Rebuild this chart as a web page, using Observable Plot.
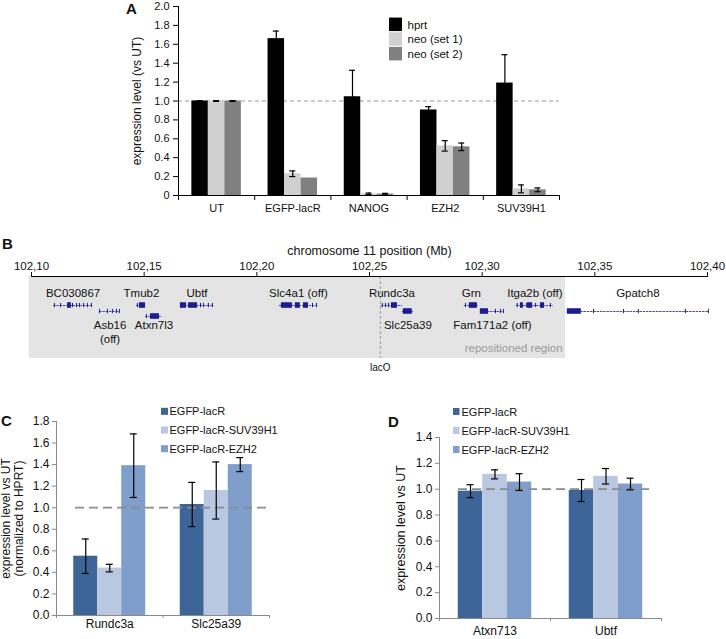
<!DOCTYPE html>
<html><head><meta charset="utf-8">
<script src="https://cdn.jsdelivr.net/npm/d3@7"></script>
<script src="https://cdn.jsdelivr.net/npm/@observablehq/plot@0.6"></script>
<style>
body{margin:0;background:#fff;}
#root{position:relative;width:726px;height:639px;overflow:hidden;background:#fff;font-family:"Liberation Sans",Arial,sans-serif;color:#111;}
.letter{position:absolute;font-weight:bold;font-size:15px;line-height:15px;}
</style></head><body><div id="root"></div>
<script>
// ---------- Panel A data ----------
const catsA = ["UT", "EGFP-lacR", "NANOG", "EZH2", "SUV39H1"];
const seriesA = ["hprt", "neo (set 1)", "neo (set 2)"];
const hprtA = [1.00, 1.66, 1.045, 0.905, 1.19];
const hprtErrA = [0.004, 0.08, 0.28, 0.035, 0.30];
const neo1A = [1.00, 0.23, 0.018, 0.525, 0.07];
const neo1ErrA = [0.004, 0.03, 0.008, 0.055, 0.042];
const neo2A = [1.00, 0.185, 0.015, 0.515, 0.06];
const neo2ErrA = [0.004, 0, 0.008, 0.04, 0.02];
const yTicksA = [0, 0.2, 0.4, 0.6, 0.8, 1.0, 1.2, 1.4, 1.6, 1.8, 2.0];
const colorsA = ["#000000", "#d0d0d0", "#808080"];

// ---------- Panel B data (chromosome 11, Mb) ----------
const chrTicks = [102.10, 102.15, 102.20, 102.25, 102.30, 102.35, 102.40];
const repositioned = {start: 102.099, end: 102.337};
const lacO = 102.2548;
const geneNames = ["BC030867", "Asb16", "Tmub2", "Atxn7l3", "Ubtf", "Slc4a1", "Rundc3a", "Slc25a39", "Grn", "Fam171a2", "Itga2b", "Gpatch8"];
const geneLabels = ["BC030867", "Asb16\n(off)", "Tmub2", "Atxn7l3", "Ubtf", "Slc4a1 (off)", "Rundc3a", "Slc25a39", "Grn", "Fam171a2 (off)", "Itga2b (off)", "Gpatch8"];
const geneStart = [102.1098, 102.1302, 102.1466, 102.1506, 102.1661, 102.2100, 102.2553, 102.2646, 102.2921, 102.2992, 102.3152, 102.3378];
const geneEnd = [102.1271, 102.1395, 102.1510, 102.1581, 102.1808, 102.2269, 102.2646, 102.2695, 102.2983, 102.3099, 102.3316, 102.4004];
const geneRow = [0, 1, 0, 2, 0, 0, 0, 1, 0, 1, 0, 1];
const labelSide = ["above", "below", "above", "below", "above", "above", "above", "below", "above", "below", "above", "above"];
const cdsBlocks = [
  ["BC030867", 102.1160, 102.1177],
  ["Tmub2", 102.1479, 102.1506],
  ["Atxn7l3", 102.1528, 102.1568],
  ["Ubtf", 102.1661, 102.1688], ["Ubtf", 102.1697, 102.1737],
  ["Slc4a1", 102.2109, 102.2158], ["Slc4a1", 102.2171, 102.2193], ["Slc4a1", 102.2207, 102.2229],
  ["Rundc3a", 102.2597, 102.2624],
  ["Slc25a39", 102.2650, 102.2690],
  ["Grn", 102.2943, 102.2979],
  ["Fam171a2", 102.2992, 102.3028],
  ["Itga2b", 102.3170, 102.3183], ["Itga2b", 102.3201, 102.3224], ["Itga2b", 102.3259, 102.3277],
  ["Gpatch8", 102.3378, 102.3440]
];
const exonTicks = [
  ["BC030867", [102.1102, 102.1129, 102.1182, 102.1200, 102.1213, 102.1231, 102.1248, 102.1266]],
  ["Asb16", [102.1302, 102.1337, 102.1359, 102.1377, 102.1390]],
  ["Tmub2", [102.1470]],
  ["Atxn7l3", [102.1510]],
  ["Ubtf", [102.1750, 102.1763, 102.1785, 102.1803]],
  ["Slc4a1", [102.2247, 102.2265]],
  ["Rundc3a", [102.2557, 102.2571, 102.2584]],
  ["Grn", [102.2926]],
  ["Fam171a2", [102.3059, 102.3081, 102.3094]],
  ["Itga2b", [102.3156, 102.3196, 102.3237, 102.3303]],
  ["Gpatch8", [102.3494, 102.3627, 102.3693, 102.3902, 102.4004]]
];

// ---------- Panels C & D data ----------
const seriesCD = ["EGFP-lacR", "EGFP-lacR-SUV39H1", "EGFP-lacR-EZH2"];
const colorsCD = ["#3d6597", "#b9c7e1", "#7f9ecb"];
const catsC = ["Rundc3a", "Slc25a39"];
const lacRC = [0.55, 1.03];
const lacRErrC = [0.16, 0.205];
const suvC = [0.44, 1.16];
const suvErrC = [0.035, 0.265];
const ezhC = [1.39, 1.40];
const ezhErrC = [0.295, 0.065];
const yTicksC = [0, 0.2, 0.4, 0.6, 0.8, 1.0, 1.2, 1.4, 1.6, 1.8];

const catsD = ["Atxn713", "Ubtf"];
const lacRD = [0.985, 0.99];
const lacRErrD = [0.05, 0.085];
const suvD = [1.115, 1.10];
const suvErrD = [0.035, 0.06];
const ezhD = [1.055, 1.04];
const ezhErrD = [0.065, 0.045];
const yTicksD = [0, 0.2, 0.4, 0.6, 0.8, 1.0, 1.2, 1.4];

// ---------- helpers ----------
const FONT = '"Liberation Sans", Arial, sans-serif';
const root = document.getElementById("root");
function place(node, left, top) {
  node.style.position = "absolute";
  node.style.left = left + "px";
  node.style.top = top + "px";
  root.appendChild(node);
}
function letter(t, left, top) {
  const d = document.createElement("div");
  d.className = "letter"; d.textContent = t;
  d.style.left = left + "px"; d.style.top = top + "px";
  root.appendChild(d);
}

// axis lines + category boundary ticks drawn from the band scale
function bandAxisLines(cats, color, tickLen) {
  return (index, scales, values, dims) => {
    const {width, height, marginLeft, marginRight, marginTop, marginBottom} = dims;
    const x0 = marginLeft, x1 = width - marginRight, yb = height - marginBottom;
    let bounds;
    try {
      const xs = scales.x;
      const bw = typeof xs.bandwidth === "function" ? xs.bandwidth() : xs.bandwidth;
      bounds = cats.map(c => xs(c));
      bounds.push(bounds[bounds.length - 1] + bw);
      if (bounds.some(v => !isFinite(v))) throw 0;
    } catch (e) {
      bounds = d3.range(cats.length + 1).map(i => x0 + i * (x1 - x0) / cats.length);
    }
    const g = d3.create("svg:g").attr("stroke", color).attr("fill", "none").attr("stroke-width", 1);
    g.append("line").attr("x1", x0 + 0.5).attr("x2", x0 + 0.5).attr("y1", marginTop).attr("y2", yb);
    g.append("line").attr("x1", x0).attr("x2", x1).attr("y1", yb + 0.5).attr("y2", yb + 0.5);
    for (const b of bounds) {
      g.append("line").attr("x1", b + 0.5).attr("x2", b + 0.5).attr("y1", yb).attr("y2", yb + tickLen);
    }
    return g.node();
  };
}

function groupedBarPlot(cfg) {
  const {cats, series, vals, errs, colors, yDomain, yTicks, tickFmt, width, height, margin,
    barW, capW, dash, axisColor, fontSize, xLabelPad, xTickLen, yTickSize, yTickPad,
    yTitle, yTitleDx, yTitleSize, dashAbove} = cfg;
  const rows = series.flatMap((s, k) => cats.map((c, i) => ({cat: c, series: s, k, value: vals[k][i], err: errs[k][i]})));
  const step = (width - margin.left - margin.right) / cats.length;
  const inset = (step - barW) / 2;
  const capInset = (step - capW) / 2;
  const off = k => (k - (series.length - 1) / 2) * barW;
  const bars = series.map((s, k) => Plot.barY(rows.filter(d => d.k === k), {
    x: "cat", y: "value", fill: "series", dx: off(k), insetLeft: inset, insetRight: inset
  }));
  const errMarks = series.flatMap((s, k) => {
    const r = rows.filter(d => d.k === k && d.err > 0);
    return [
      Plot.ruleX(r, {x: "cat", y1: d => d.value - d.err, y2: d => d.value + d.err, dx: off(k), stroke: "#000", strokeWidth: 1.2}),
      Plot.tickY(r, {x: "cat", y: d => d.value + d.err, dx: off(k), insetLeft: capInset, insetRight: capInset, stroke: "#000", strokeWidth: 1.2}),
      Plot.tickY(r, {x: "cat", y: d => d.value - d.err, dx: off(k), insetLeft: capInset, insetRight: capInset, stroke: "#000", strokeWidth: 1.2})
    ];
  });
  const dashMark = Plot.ruleY([1], {stroke: dash.stroke, strokeWidth: dash.width, strokeDasharray: dash.array, insetLeft: dash.insetLeft, insetRight: dash.insetRight});
  return Plot.plot({
    width, height,
    marginLeft: margin.left, marginRight: margin.right, marginTop: margin.top, marginBottom: margin.bottom,
    x: {domain: cats, padding: 0, round: false},
    y: {domain: yDomain, nice: false},
    color: {domain: series, range: colors},
    style: {fontFamily: FONT, fontSize: fontSize + "px", background: "transparent", overflow: "visible", color: "#111"},
    marks: [
      ...(dashAbove ? [] : [dashMark]),
      ...bars,
      ...(dashAbove ? [dashMark] : []),
      ...errMarks,
      bandAxisLines(cats, axisColor, xTickLen),
      Plot.axisY({ticks: yTicks, tickFormat: tickFmt, tickSize: yTickSize, tickPadding: yTickPad, stroke: axisColor, label: null}),
      Plot.axisX({tickSize: 0, tickPadding: xLabelPad, label: null}),
      Plot.text([yTitle], {text: d => d, frameAnchor: "left", textAnchor: "middle", lineAnchor: "middle", rotate: -90, dx: yTitleDx, fontSize: yTitleSize, lineHeight: 1.05})
    ]
  });
}

function legendPlot({series, colors, width, height, swW, swH, textDx, fontSize}) {
  const rowH = height / series.length;
  return Plot.plot({
    width, height, marginLeft: 0, marginRight: width - swW, marginTop: 0, marginBottom: 0,
    x: {domain: ["sw"], axis: null, padding: 0, round: false},
    y: {domain: series, axis: null, padding: 0, round: false},
    color: {domain: series, range: colors},
    style: {fontFamily: FONT, fontSize: fontSize + "px", background: "transparent", overflow: "visible", color: "#111"},
    marks: [
      Plot.cell(series, {x: () => "sw", y: d => d, fill: d => d, insetTop: (rowH - swH) / 2, insetBottom: (rowH - swH) / 2}),
      Plot.text(series, {x: () => "sw", y: d => d, text: d => d, textAnchor: "start", dx: swW / 2 + textDx})
    ]
  });
}

// ---------- Panel A ----------
place(groupedBarPlot({
  cats: catsA, series: seriesA, vals: [hprtA, neo1A, neo2A], errs: [hprtErrA, neo1ErrA, neo2ErrA],
  colors: colorsA, yDomain: [0, 2], yTicks: yTicksA, tickFmt: d => d === 0 ? "0" : d.toFixed(1),
  width: 726, height: 225, margin: {left: 178, right: 167, top: 6, bottom: 30},
  barW: 16.5, capW: 6, dash: {stroke: "#9a9a9a", width: 1, array: "4,3", insetLeft: 0, insetRight: 0},
  axisColor: "#000", fontSize: 11, xLabelPad: 9, xTickLen: 5, yTickSize: 5, yTickPad: 4,
  yTitle: "expression level (vs UT)", yTitleDx: -42, yTitleSize: 12, dashAbove: false
}), 0, 0);
place(legendPlot({series: seriesA, colors: colorsA, width: 110, height: 44, swW: 13, swH: 13.5, textDx: 5, fontSize: 11.5}), 389, 17);
letter("A", 126, 1);

// ---------- Panel B ----------
{
  const rowY = [35.4, 42.7, 48.8];
  const genes = geneNames.map((n, i) => ({name: n, label: geneLabels[i], start: geneStart[i], end: geneEnd[i], row: geneRow[i], side: labelSide[i]}));
  const rowOf = Object.fromEntries(genes.map(g => [g.name, g.row]));
  const blocks = cdsBlocks.map(([g, s, e]) => ({gene: g, start: s, end: e, row: rowOf[g]}));
  const exons = exonTicks.flatMap(([g, xs]) => xs.map(x => ({gene: g, x, row: rowOf[g]})));
  const navy = "#1d1d92";
  const pB = Plot.plot({
    width: 726, height: 170, marginLeft: 31, marginRight: 19, marginTop: 51, marginBottom: 37,
    x: {domain: [102.10, 102.40]},
    y: {domain: [0, 100], reverse: true, axis: null},
    style: {fontFamily: FONT, fontSize: "11px", background: "transparent", overflow: "visible", color: "#111"},
    marks: [
      Plot.rect([repositioned], {x1: "start", x2: "end", y1: 0, y2: 100, fill: "#e4e4e4"}),
      Plot.text([repositioned], {x: "end", y: 88, text: () => "repositioned region", textAnchor: "end", dx: -3, fill: "#9a9a9a", fontSize: 11.5}),
      Plot.ruleX([lacO], {x: d => d, y1: 0, y2: 100, stroke: "#999", strokeDasharray: "3,2"}),
      Plot.text([lacO], {x: d => d, y: 111, text: () => "lacO", fontSize: 10}),
      Plot.ruleY(genes, {x1: "start", x2: "end", y: d => rowY[d.row], stroke: "#4a4ab0", strokeWidth: 1, strokeDasharray: "2.5,0.8"}),
      Plot.ruleX(exons, {x: "x", y1: d => rowY[d.row] - 2.6, y2: d => rowY[d.row] + 2.6, stroke: navy, strokeWidth: 1}),
      Plot.rect(blocks, {x1: "start", x2: "end", y1: d => rowY[d.row] - 3.4, y2: d => rowY[d.row] + 3.4, fill: navy}),
      Plot.text(genes.filter(g => g.side === "above"), {x: d => (d.start + d.end) / 2, y: 20.7, text: "label", fontSize: 11.5}),
      Plot.text(genes.filter(g => g.side === "below"), {x: d => (d.start + d.end) / 2, y: 53, text: "label", lineAnchor: "top", fontSize: 11.5, lineHeight: 1.15}),
      Plot.ruleY([0], {stroke: "#000"}),
      Plot.axisX({anchor: "top", ticks: chrTicks, tickFormat: d => d.toFixed(2).replace(".", ","), tickSize: 5, tickPadding: 2, label: null, fontSize: 11.5}),
      Plot.text(["chromosome 11 position (Mb)"], {text: d => d, frameAnchor: "top", dy: -30, fontSize: 12.5})
    ]
  });
  place(pB, 0, 225);
  letter("B", 2, 236);
}

// ---------- Panel C ----------
place(groupedBarPlot({
  cats: catsC, series: seriesCD, vals: [lacRC, suvC, ezhC], errs: [lacRErrC, suvErrC, ezhErrC],
  colors: colorsCD, yDomain: [0, 1.8], yTicks: yTicksC, tickFmt: d => d.toFixed(1),
  width: 300, height: 244, margin: {left: 56, right: 31, top: 26, bottom: 24},
  barW: 24, capW: 7, dash: {stroke: "#8c8c8c", width: 1.8, array: "9,5", insetLeft: 19, insetRight: 1},
  axisColor: "#8a8a8a", fontSize: 12, xLabelPad: 4, xTickLen: 3, yTickSize: 4, yTickPad: 3,
  yTitle: "expression level vs UT\n(normalized to HPRT)", yTitleDx: -44, yTitleSize: 12, dashAbove: true
}), 0, 395);
place(legendPlot({series: seriesCD, colors: colorsCD, width: 140, height: 56, swW: 7, swH: 7, textDx: 1, fontSize: 11}), 161, 402);
letter("C", 1, 413);

// ---------- Panel D ----------
place(groupedBarPlot({
  cats: catsD, series: seriesCD, vals: [lacRD, suvD, ezhD], errs: [lacRErrD, suvErrD, ezhErrD],
  colors: colorsCD, yDomain: [0, 1.4], yTicks: yTicksD, tickFmt: d => d.toFixed(1),
  width: 300, height: 244, margin: {left: 59, right: 19, top: 42, bottom: 21},
  barW: 24.5, capW: 7, dash: {stroke: "#8c8c8c", width: 1.8, array: "9,5", insetLeft: 19, insetRight: 8},
  axisColor: "#8a8a8a", fontSize: 12, xLabelPad: 8, xTickLen: 3, yTickSize: 4, yTickPad: 3,
  yTitle: "expression level vs UT", yTitleDx: -39, yTitleSize: 12.5, dashAbove: true
}), 380, 395);
place(legendPlot({series: seriesCD, colors: colorsCD, width: 140, height: 57, swW: 6.5, swH: 7, textDx: 1.5, fontSize: 11}), 453, 402);
letter("D", 388, 414);
</script></body></html>
